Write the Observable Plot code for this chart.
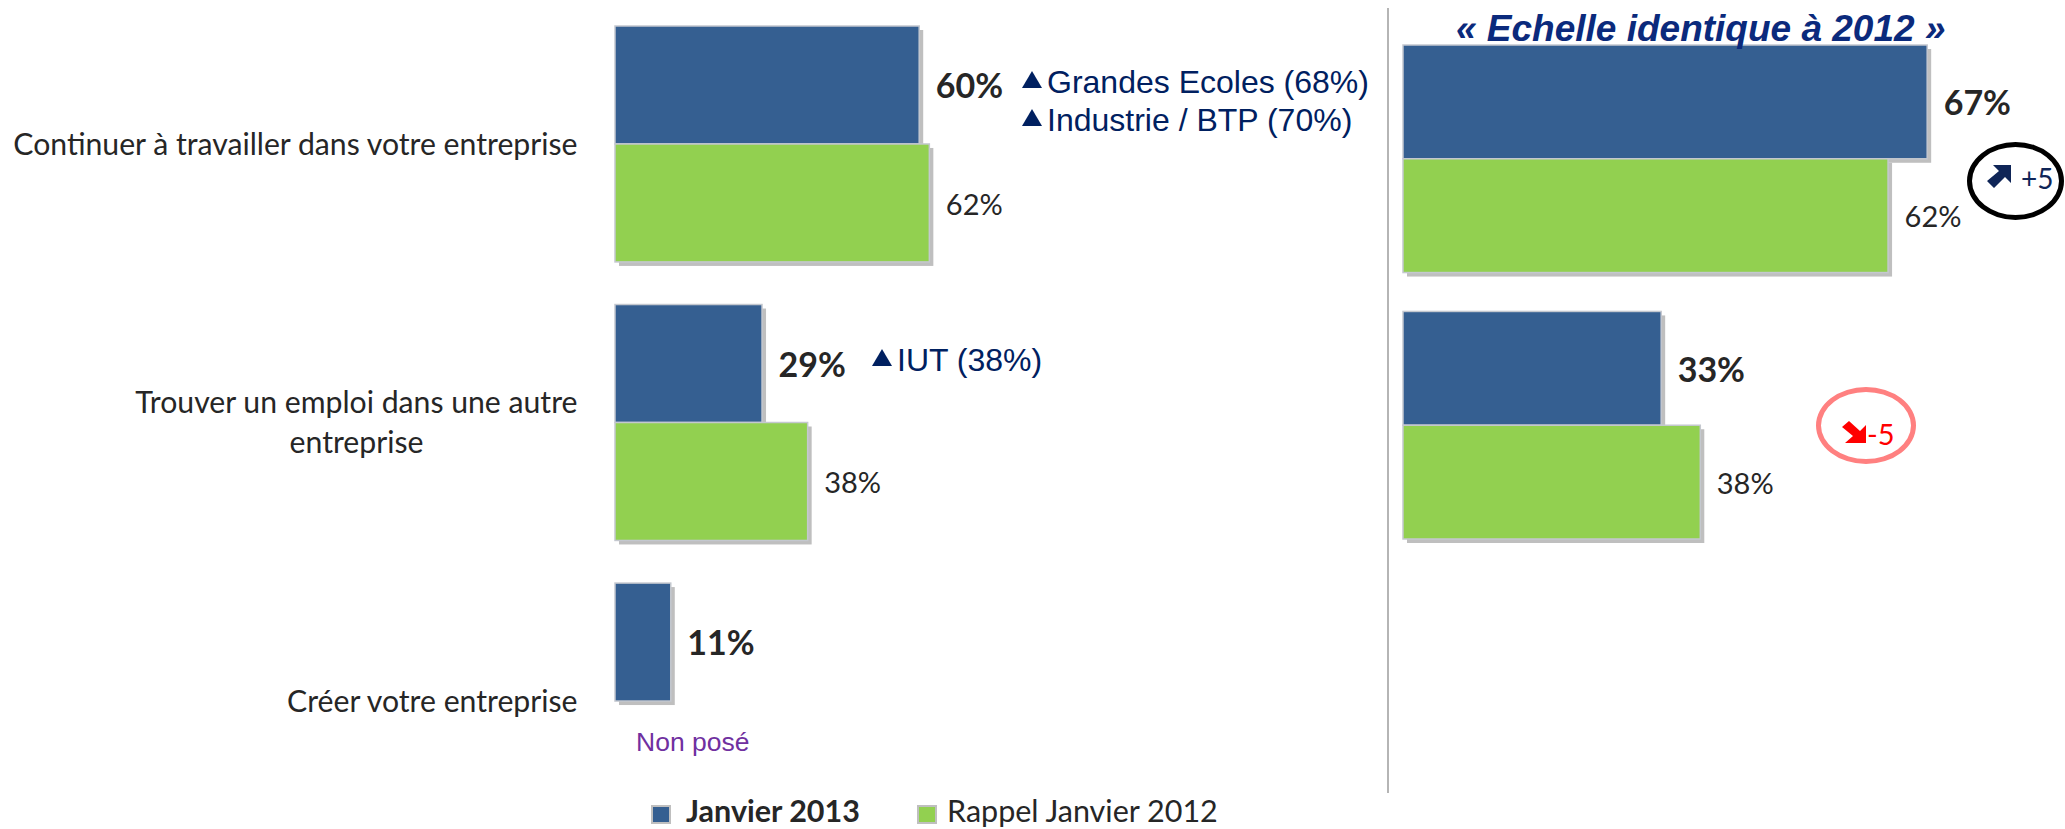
<!DOCTYPE html>
<html lang="fr">
<head>
<meta charset="utf-8">
<script src="https://cdn.jsdelivr.net/npm/d3@7"></script>
<script src="https://cdn.jsdelivr.net/npm/@observablehq/plot@0.6"></script>
<style>
html,body{margin:0;padding:0;background:#fff;overflow:hidden}
#page{position:relative;width:2065px;height:829px;overflow:hidden}
#page > svg{position:absolute;left:0;top:0;background:transparent}
.note{position:absolute;white-space:nowrap;line-height:1;transform:translateY(-50%)}
.sans{font-family:"Lato",sans-serif;color:#262626}
.arial{font-family:"Liberation Sans",sans-serif}
.tri{position:absolute;width:0;height:0;border-left:10px solid transparent;border-right:10px solid transparent;border-bottom:17px solid #002060}
.ring{position:absolute;border-radius:50%;box-sizing:border-box}
.sw{position:absolute;width:20px;height:19px;box-sizing:border-box;border:2px solid #bfbfbf}
.icon{position:absolute}
</style>
</head>
<body>
<div id="page"></div>
<script>
const categories = ["Continuer à travailler dans votre entreprise", "Trouver un emploi dans une autre entreprise", "Créer votre entreprise"];
const categoryLines = [
  ["Continuer à travailler dans votre entreprise"],
  ["Trouver un emploi dans une autre", "entreprise"],
  ["Créer votre entreprise"]
];
const seriesNames = ["Janvier 2013", "Rappel Janvier 2012"];
const leftValues2013 = [60, 29, 11];
const leftValues2012 = [62, 38, null];
const rightCategories = categories.slice(0, 2);
const rightValues2013 = [67, 33];
const rightValues2012 = [62, 38];
const blue = "#355f91", green = "#92d050", shadow = "#bfbfbf";
const sans = "Lato", textColor = "#262626";
const labelSize = 30.2;

function rows(cats, a, b) {
  const out = [];
  cats.forEach((c, i) => {
    if (a[i] != null) out.push({category: c, series: seriesNames[0], value: a[i]});
    if (b[i] != null) out.push({category: c, series: seriesNames[1], value: b[i]});
  });
  return out;
}

function barMarks(data) {
  const marks = [];
  for (const [name, color] of [[seriesNames[0], blue], [seriesNames[1], green]]) {
    const d = data.filter(r => r.series === name);
    marks.push(Plot.barX(d, {x: "value", y: "series", fy: "category", fill: shadow, dx: 4, dy: 4}));
    marks.push(Plot.barX(d, {x: "value", y: "series", fy: "category", fill: color, stroke: "#c4c8cf", strokeWidth: 1.5}));
  }
  marks.push(Plot.text(data.filter(r => r.series === seriesNames[0]), {
    x: "value", y: "series", fy: "category", text: r => r.value + "%", textAnchor: "start",
    dx: 16, dy: 2, fontFamily: sans, fontWeight: 700, fontSize: 34, fill: textColor
  }));
  marks.push(Plot.text(data.filter(r => r.series === seriesNames[1]), {
    x: "value", y: "series", fy: "category", text: r => r.value + "%", textAnchor: "start",
    dx: 16, dy: 2, fontFamily: sans, fontSize: 29, fill: textColor
  }));
  return marks;
}

const commonY = {domain: seriesNames, padding: 0, round: false, axis: null};
const leftData = rows(categories, leftValues2013, leftValues2012);
const labelRows = categories.flatMap((c, i) => categoryLines[i].map((t, j) => ({category: c, text: t, line: j, count: categoryLines[i].length})));
const labelBase = {x: () => 0, fy: "category", text: "text", frameAnchor: "middle", fontFamily: sans, fontSize: labelSize, fill: textColor};

const leftPlot = Plot.plot({
  width: 2065, height: 829, marginTop: 26, marginBottom: 10, marginLeft: 0, marginRight: 0,
  x: {domain: [0, 100], range: [615, 1122], axis: null},
  y: commonY,
  fy: {domain: categories, paddingInner: 0.153, paddingOuter: 0, round: false, axis: null},
  marks: [
    ...barMarks(leftData),
    Plot.text(labelRows.filter(d => d.count === 1), {...labelBase, textAnchor: "end", dx: -38, dy: 1}),
    Plot.text(labelRows.filter(d => d.count === 2 && d.line === 0), {...labelBase, textAnchor: "end", dx: -38, dy: -20}),
    Plot.text(labelRows.filter(d => d.count === 2 && d.line === 1), {...labelBase, textAnchor: "middle", dx: -259, dy: 20})
  ]
});

const rightPlot = Plot.plot({
  width: 2065, height: 829, marginTop: 45, marginBottom: 290, marginLeft: 0, marginRight: 0,
  x: {domain: [0, 85], range: [1403, 2068], axis: null},
  y: commonY,
  fy: {domain: rightCategories, paddingInner: 0.146, paddingOuter: 0, round: false, axis: null},
  marks: barMarks(rows(rightCategories, rightValues2013, rightValues2012))
});

const page = document.getElementById("page");
page.append(leftPlot, rightPlot);

function add(html) { page.insertAdjacentHTML("beforeend", html); }
// divider
add('<div style="position:absolute;left:1387px;top:8px;width:2px;height:785px;background:#b5b5b5"></div>');
// title
add('<div class="note arial" style="left:1456px;top:28px;font-size:37px;font-weight:700;font-style:italic;color:#0b2a7c">« Echelle identique à 2012 »</div>');
// subgroup notes
const noteStyle = 'font-size:32px;color:#002060';
add('<div class="tri" style="left:1022px;top:71px"></div><div class="note arial" style="left:1047px;top:82px;' + noteStyle + '">Grandes Ecoles (68%)</div>');
add('<div class="tri" style="left:1022px;top:109px"></div><div class="note arial" style="left:1047px;top:120px;' + noteStyle + '">Industrie / BTP (70%)</div>');
add('<div class="tri" style="left:872px;top:349px"></div><div class="note arial" style="left:897px;top:360px;' + noteStyle + '">IUT (38%)</div>');
add('<div class="note arial" style="left:636px;top:742px;font-size:26.5px;color:#7030a0">Non posé</div>');
// change badges
add('<div class="ring" style="left:1967px;top:142px;width:97px;height:78px;border:5px solid #000"></div>');
add('<svg class="icon" style="left:1987px;top:165px" width="24" height="23" viewBox="0 0 24 23"><polygon points="6,0 24,0 24,18 18,12 7,23 0,16 12,6" fill="#0f2557"/></svg>');
add('<div class="note sans" style="left:2021px;top:178px;font-size:28px;color:#0f2557">+5</div>');
add('<div class="ring" style="left:1816px;top:387px;width:100px;height:77px;border:5px solid #ff8080"></div>');
add('<svg class="icon" style="left:1842px;top:421px" width="24" height="22" viewBox="0 0 24 22"><polygon points="3,22 24,22 24,4 18,10 7,0 0,6 11,15" fill="#f00"/></svg>');
add('<div class="note sans" style="left:1867px;top:433px;font-size:29px;color:#f00">-5</div>');
// legend
add('<div class="sw" style="left:651px;top:805px;background:' + blue + '"></div>');
add('<div class="note sans" style="left:686px;top:810px;font-size:30.5px;font-weight:700">' + seriesNames[0] + '</div>');
add('<div class="sw" style="left:917px;top:805px;background:' + green + '"></div>');
add('<div class="note sans" style="left:947px;top:810px;font-size:30.5px">' + seriesNames[1] + '</div>');
</script>
</body>
</html>
